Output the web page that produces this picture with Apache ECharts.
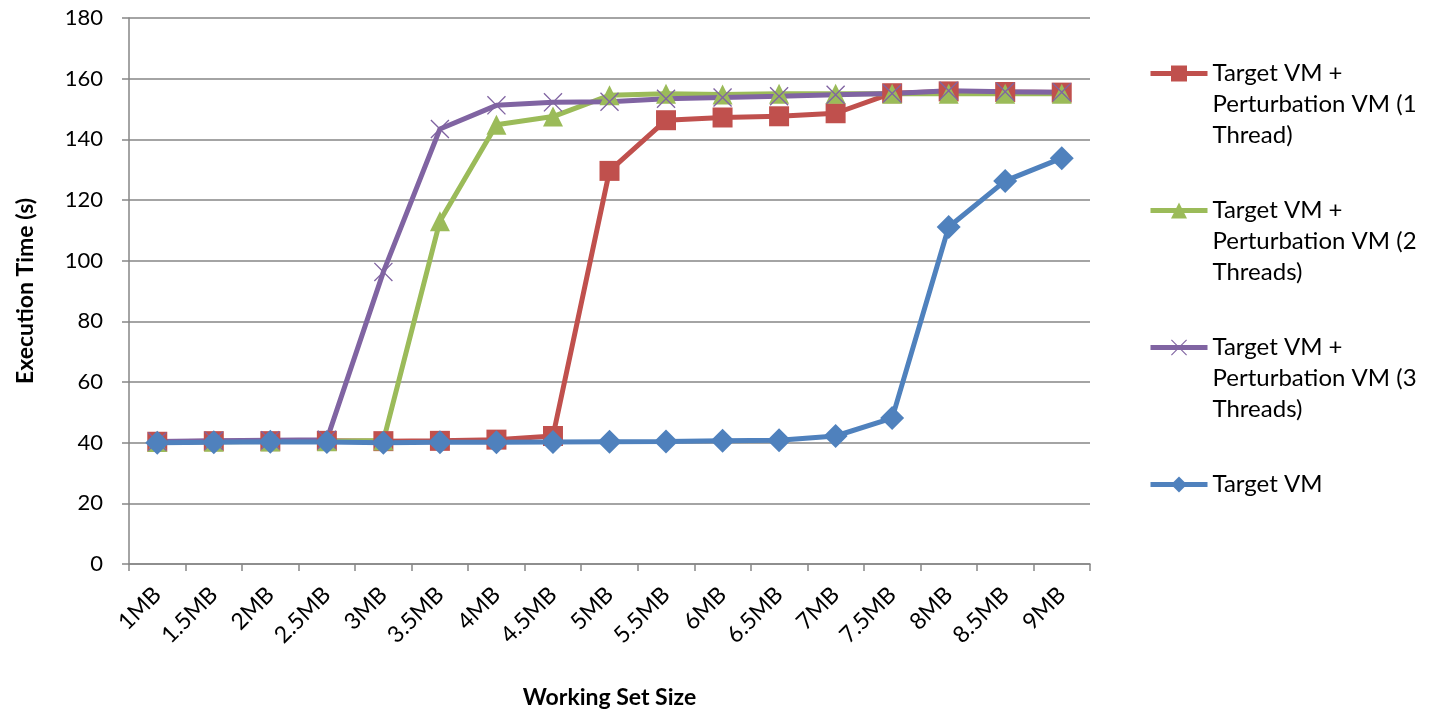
<!DOCTYPE html>
<html>
<head>
<meta charset="utf-8">
<script src="https://cdn.jsdelivr.net/npm/echarts@6/dist/echarts.min.js"></script>
<style>
  html, body { margin: 0; padding: 0; background: #fff; }
  #main { width: 1429px; height: 714px; }
</style>
</head>
<body>
<div id="main"></div>
<script>
// working set sizes (x axis)
var sizes = ['1MB', '1.5MB', '2MB', '2.5MB', '3MB', '3.5MB', '4MB', '4.5MB', '5MB',
             '5.5MB', '6MB', '6.5MB', '7MB', '7.5MB', '8MB', '8.5MB', '9MB'];

// execution time (s)
var oneThread    = [40.3, 40.5, 40.5, 40.6, 40.5, 40.6, 41.0, 42.2, 129.6, 146.3, 147.2, 147.6, 148.6, 155.2, 155.8, 155.6, 155.4];
var twoThreads   = [40.2, 40.3, 40.4, 40.5, 40.7, 113.0, 144.8, 147.5, 154.5, 155.0, 154.8, 155.0, 155.0, 155.0, 155.0, 155.0, 155.0];
var threeThreads = [40.4, 40.6, 40.8, 41.0, 96.3, 143.4, 151.2, 152.2, 152.4, 153.4, 153.8, 154.2, 154.7, 155.1, 156.0, 155.7, 155.5];
var targetOnly   = [40.0, 40.1, 40.3, 40.2, 40.0, 40.1, 40.1, 40.2, 40.3, 40.4, 40.6, 40.8, 42.2, 48.1, 111.1, 126.3, 133.8];

var seriesNames = ['Target VM + Perturbation VM (1 Thread)',
                   'Target VM + Perturbation VM (2 Threads)',
                   'Target VM + Perturbation VM (3 Threads)',
                   'Target VM'];
// wrapped legend text; blank lines keep the icon level with the first line
var legendLines = ['\n\nTarget VM +\nPerturbation VM (1\nThread)',
                   '\n\nTarget VM +\nPerturbation VM (2\nThreads)',
                   '\n\nTarget VM +\nPerturbation VM (3\nThreads)',
                   '\n\nTarget VM\n\n'];
var colors = ['#C0504D', '#9BBB59', '#8064A2', '#4F81BD'];

var crossPath = 'path://M0,1 L1,0 L10,9 L19,0 L20,1 L11,10 L20,19 L19,20 L10,11 L1,20 L0,19 L9,10 Z';

var font = 'Lato, "Open Sans", sans-serif';

var myChart = echarts.init(document.getElementById('main'));

function makeSeries(i, data, symbol, size) {
    return {
        name: seriesNames[i],
        type: 'line',
        data: data,
        symbol: symbol,
        symbolSize: size,
        showAllSymbol: true,
        color: colors[i],
        lineStyle: { width: 5, color: colors[i] },
        itemStyle: { color: colors[i] },
        emphasis: { disabled: true },
        animation: false
    };
}

var option = {
    textStyle: { fontFamily: font },
    grid: { left: 129, right: 339, top: 18, bottom: 150, containLabel: false, outerBoundsMode: 'none' },
    legend: {
        orient: 'vertical',
        left: 1148,
        top: -4,
        padding: 0,
        itemWidth: 57,
        itemHeight: 20,
        itemGap: -18,
        lineStyle: { width: 5 },
        data: seriesNames,
        formatter: function (name) {
            return legendLines[seriesNames.indexOf(name)];
        },
        textStyle: { fontSize: 24, color: '#000', fontFamily: font, lineHeight: 31 }
    },
    xAxis: {
        type: 'category',
        data: sizes,
        boundaryGap: true,
        name: 'Working Set Size',
        nameLocation: 'middle',
        nameGap: 122,
        nameTextStyle: { fontSize: 23, fontWeight: 'bold', color: '#000', fontFamily: font },
        axisLine: { lineStyle: { color: '#868686', width: 1.5 } },
        axisTick: { show: true, length: 7, lineStyle: { color: '#868686', width: 1.5 } },
        axisLabel: { rotate: 45, fontSize: 23, color: '#000', margin: 27, fontFamily: font, interval: 0 },
        splitLine: { show: false }
    },
    yAxis: {
        type: 'value',
        min: 0,
        max: 180,
        interval: 20,
        name: 'Execution Time (s)',
        nameLocation: 'middle',
        nameRotate: 90,
        nameGap: 92,
        nameTextStyle: { fontSize: 23, fontWeight: 'bold', color: '#000', fontFamily: font },
        axisLine: { show: true, lineStyle: { color: '#868686', width: 1.5 } },
        axisTick: { show: true, length: 7, lineStyle: { color: '#868686', width: 1.5 } },
        axisLabel: { fontSize: 22, color: '#000', margin: 26, fontFamily: font },
        splitLine: { show: true, lineStyle: { color: '#868686', width: 1.5 } }
    },
    series: [
        makeSeries(0, oneThread, 'rect', 20),
        makeSeries(1, twoThreads, 'triangle', 20),
        makeSeries(2, threeThreads, crossPath, 19),
        makeSeries(3, targetOnly, 'diamond', 24)
    ]
};

myChart.setOption(option);
</script>
</body>
</html>
